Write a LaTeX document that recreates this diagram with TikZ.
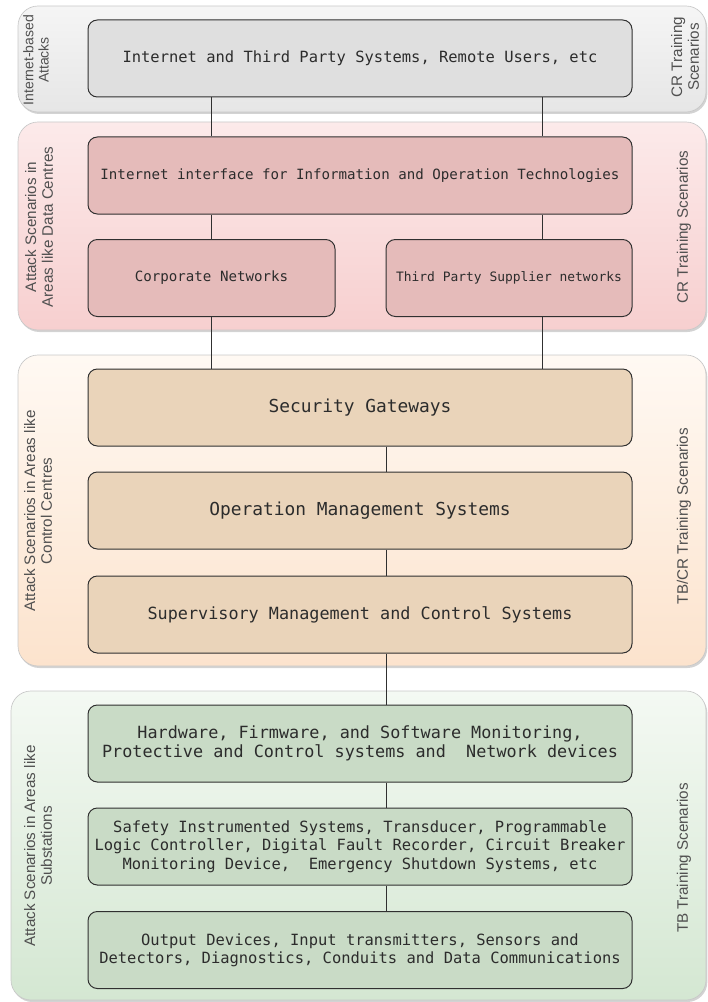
\documentclass[tikz,border=0pt]{standalone}
\usepackage{fontspec}
\setmainfont{Liberation Sans}
\setmonofont{DejaVu Sans Mono}
\usepackage{xcolor}
\usetikzlibrary{positioning,shadows}

\definecolor{graytop}{HTML}{F5F5F5}
\definecolor{graybot}{HTML}{E6E6E6}
\definecolor{graybox}{HTML}{DFDFDF}
\definecolor{pinktop}{HTML}{FCEAEA}
\definecolor{pinkbot}{HTML}{F7CFCF}
\definecolor{pinkbox}{HTML}{E5BBBA}
\definecolor{orgtop}{HTML}{FFF9F3}
\definecolor{orgbot}{HTML}{FCE3CD}
\definecolor{orgbox}{HTML}{EAD4BA}
\definecolor{grntop}{HTML}{F4F9F3}
\definecolor{grnbot}{HTML}{D4E7D2}
\definecolor{grnbox}{HTML}{C9DBC6}
\definecolor{boxline}{HTML}{303030}
\definecolor{laneline}{HTML}{C8C8C8}
\definecolor{txt}{HTML}{2C2C2C}
\definecolor{sidetxt}{HTML}{505050}

\begin{document}
\begin{tikzpicture}[x=0.75pt,y=-0.75pt,
        main node/.style={draw=boxline, line width=0.75pt, rectangle, rounded corners=7pt, align=center,
            text=txt, minimum width=408pt, minimum height=57.75pt, inner sep=1pt},
        lane/.style={draw=laneline, line width=0.5pt, rectangle, rounded corners=15pt, minimum width=516pt,
            drop shadow={opacity=0.35, shadow xshift=1pt, shadow yshift=-1.5pt}},
        side/.style={rotate=90, align=center, text=sidetxt, font=\fontsize{11.4}{12.5}\selectfont}]

\useasboundingbox (0,0) rectangle (707,1002);

\node[lane, top color=graytop, bottom color=graybot, minimum height=79.5pt] (11) at (362,59) {};
\node[lane, top color=pinktop, bottom color=pinkbot, minimum height=156pt] (12) at (362,226) {};
\node[lane, top color=orgtop, bottom color=orgbot, minimum height=233.25pt] (13) at (362,510.5) {};
\node[lane, top color=grntop, bottom color=grnbot, minimum height=231.75pt, minimum width=521.25pt] (14) at (358.5,845.5) {};

\node[side, font=\fontsize{10.5}{11.5}\selectfont] (15) at (36,60) {Internet-based\\Attacks};
\node[side] (16) at (685,57) {CR Training\\Scenarios};
\node[side] (17) at (39,227) {Attack Scenarios in\\Areas like Data Centres};
\node[side] (18) at (684,227) {CR Training Scenarios};
\node[side] (19) at (38,511) {Attack Scenarios in Areas like\\Control Centres};
\node[side] (20) at (684,516) {TB/CR Training Scenarios};
\node[side] (21) at (38,846) {Attack Scenarios in Areas like\\Substations};
\node[side] (22) at (684,858) {TB Training Scenarios};

\node[main node, fill=graybox, font=\ttfamily\fontsize{11.6}{13.75}\selectfont] (1) at (360,58.5)
    {Internet and Third Party Systems, Remote Users, etc};
\node[main node, fill=pinkbox, font=\ttfamily\fontsize{10.6}{13}\selectfont] (2) at (360,175.5)
    {Internet interface for Information and Operation Technologies};
\node[main node, fill=pinkbox, minimum width=185.25pt, font=\ttfamily\fontsize{10.6}{13}\selectfont] (3) at (211.5,278)
    {Corporate Networks};
\node[main node, fill=pinkbox, minimum width=184.5pt, font=\ttfamily\fontsize{9.7}{12}\selectfont] (4) at (509,278)
    {Third Party Supplier networks};

\node[main node, fill=orgbox, font=\ttfamily\fontsize{13.4}{16}\selectfont] (5) at (360,407.5) {Security Gateways};
\node[main node, fill=orgbox, font=\ttfamily\fontsize{13.4}{16}\selectfont] (6) at (360,510.5) {Operation Management Systems};
\node[main node, fill=orgbox, font=\ttfamily\fontsize{12.6}{15}\selectfont] (7) at (360,614.5)
    {Supervisory Management and Control Systems};

\node[main node, fill=grnbox, font=\ttfamily\fontsize{12.6}{13.75}\selectfont] (8) at (360,743.5)
    {Hardware, Firmware, and Software Monitoring,\\Protective and Control systems and~~Network devices};
\node[main node, fill=grnbox, font=\ttfamily\fontsize{11.6}{13.75}\selectfont] (9) at (360,846.5)
    {Safety Instrumented Systems, Transducer, Programmable\\Logic Controller, Digital Fault Recorder, Circuit Breaker\\Monitoring Device,~~Emergency Shutdown Systems, etc};
\node[main node, fill=grnbox, font=\ttfamily\fontsize{11.6}{13.75}\selectfont] (10) at (360,950)
    {Output Devices, Input transmitters, Sensors and\\Detectors, Diagnostics, Conduits and Data Communications};

\coordinate (L) at (211,0);
\coordinate (R) at (542,0);
\coordinate (M) at (386,0);

\draw[boxline, line width=0.75pt] (1.south -| L) -- (2.north -| L);
\draw[boxline, line width=0.75pt] (1.south -| R) -- (2.north -| R);
\draw[boxline, line width=0.75pt] (2.south -| L) -- (3.north -| L);
\draw[boxline, line width=0.75pt] (2.south -| R) -- (4.north -| R);
\draw[boxline, line width=0.75pt] (3.south -| L) -- (5.north -| L);
\draw[boxline, line width=0.75pt] (4.south -| R) -- (5.north -| R);

\draw[boxline, line width=0.75pt] (5.south -| M) -- (6.north -| M);
\draw[boxline, line width=0.75pt] (6.south -| M) -- (7.north -| M);
\draw[boxline, line width=0.75pt] (7.south -| M) -- (8.north -| M);
\draw[boxline, line width=0.75pt] (8.south -| M) -- (9.north -| M);
\draw[boxline, line width=0.75pt] (9.south -| M) -- (10.north -| M);

\end{tikzpicture}
\end{document}
